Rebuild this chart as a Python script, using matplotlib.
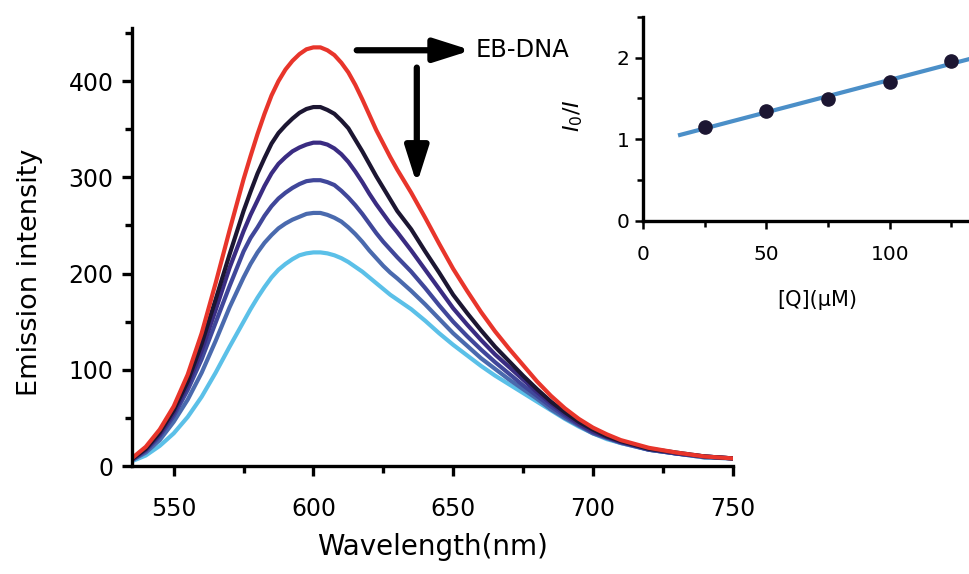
import numpy as np
import matplotlib
matplotlib.use("Agg")
import matplotlib.pyplot as plt
from matplotlib.ticker import MultipleLocator

plt.rcParams['font.family'] = ['DejaVu Sans']

# emission spectra (wavelength in nm), denser around the peak
wavelength = [535, 540, 545, 550, 555, 560, 565, 570, 575,
              577.5, 580, 582.5, 585, 587.5, 590, 592.5, 595, 597.5, 600,
              602.5, 605, 607.5, 610, 612.5, 615, 617.5, 620, 622.5, 625, 627.5,
              630, 635, 640, 645, 650, 655, 660, 665, 670, 675, 680, 685, 690,
              695, 700, 705, 710, 720, 730, 740, 750]

eb_dna = [8, 20, 38, 62, 95, 138, 190, 245, 298,
          322, 345, 366, 385, 400, 412, 421, 428, 433, 435,
          435, 432, 427, 419, 409, 396, 381, 365, 349, 335, 321,
          308, 284, 258, 231, 205, 182, 160, 140, 122, 105, 88, 73, 60,
          49, 40, 33, 27, 19, 14, 10, 8]
q25 = [7, 18, 35, 58, 88, 127, 173, 220, 265,
       285, 304, 320, 335, 346, 354, 361, 367, 371, 373,
       373, 370, 366, 359, 351, 339, 327, 314, 301, 289, 277,
       265, 246, 223, 201, 178, 159, 141, 124, 109, 94, 80, 67, 56,
       46, 38, 31, 26, 18, 14, 10, 8]
q50 = [7, 17, 33, 55, 84, 120, 162, 206, 244,
       261, 276, 291, 304, 314, 321, 327, 331, 334, 336,
       336, 334, 330, 324, 316, 306, 295, 283, 272, 262, 252,
       243, 224, 204, 184, 164, 147, 131, 116, 103, 90, 77, 65, 54,
       44, 36, 30, 25, 18, 13, 10, 8]
q75 = [6, 16, 31, 52, 79, 111, 149, 187, 223,
       237, 248, 260, 270, 278, 284, 289, 293, 296, 297,
       297, 295, 292, 286, 279, 271, 262, 252, 242, 233, 225,
       217, 202, 185, 167, 150, 135, 121, 108, 96, 84, 73, 62, 52,
       43, 35, 30, 25, 17, 13, 10, 8]
q100 = [6, 14, 27, 46, 69, 97, 130, 165, 196,
        210, 222, 232, 240, 247, 252, 256, 259, 262, 263,
        263, 261, 258, 254, 248, 241, 233, 224, 216, 208, 201,
        195, 182, 168, 153, 138, 125, 112, 101, 90, 80, 70, 59, 50,
        42, 34, 29, 24, 17, 13, 9, 8]
q125 = [5, 11, 21, 34, 51, 72, 97, 124, 150,
        163, 175, 186, 196, 204, 210, 215, 219, 221, 222,
        222, 221, 219, 216, 212, 207, 202, 196, 190, 184, 178,
        173, 163, 151, 138, 126, 115, 104, 94, 85, 76, 67, 58, 49,
        41, 34, 28, 24, 17, 13, 9, 8]

# Stern-Volmer inset
conc = [25, 50, 75, 100, 125]
ratio = [1.15, 1.34, 1.49, 1.70, 1.96]

fig = plt.figure(figsize=(9.69, 5.74), dpi=100)
ax = fig.add_axes([0.136, 0.188, 0.620, 0.763])

spectra = [q125, q100, q75, q50, q25, eb_dna]
colors = ['#5bc0e8', '#4a6aae', '#40479a', '#3a2c82', '#1c1632', '#e8352b']
for s, c in zip(spectra, colors):
    ax.plot(wavelength, s, color=c, lw=3, solid_capstyle='round',
            solid_joinstyle='round')

ax.set_xlim(535, 750)
ax.set_ylim(0, 455)
ax.spines['top'].set_visible(False)
ax.spines['right'].set_visible(False)
ax.spines['left'].set_linewidth(2.4)
ax.spines['bottom'].set_linewidth(2.4)
ax.set_xticks([550, 600, 650, 700, 750])
ax.xaxis.set_minor_locator(MultipleLocator(25))
ax.yaxis.set_major_locator(MultipleLocator(100))
ax.yaxis.set_minor_locator(MultipleLocator(50))
ax.tick_params(which='major', direction='out', length=7, width=2.4, labelsize=17)
ax.tick_params(which='minor', direction='out', length=5, width=2.4)
ax.tick_params(axis='x', which='major', pad=15)
ax.tick_params(axis='y', which='major', pad=6)
ax.set_xlabel('Wavelength(nm)', fontsize=20, labelpad=9)
ax.set_ylabel('Emission intensity', fontsize=19.5)
ax.yaxis.set_label_coords(-0.148, 0.443)

# arrows and label
ax.annotate('', xy=(656.5, 432), xytext=(615.5, 432),
            arrowprops=dict(arrowstyle='-|>,head_length=2.2,head_width=0.7',
                            color='black', lw=4.5, shrinkA=0, shrinkB=0))
ax.text(658, 432, 'EB-DNA', fontsize=17.5, va='center', ha='left')
ax.annotate('', xy=(637, 293), xytext=(637, 414),
            arrowprops=dict(arrowstyle='-|>,head_length=2.2,head_width=0.7',
                            color='black', lw=4.5, shrinkA=0, shrinkB=0))

# inset
ins = fig.add_axes([0.6636, 0.615, 0.382, 0.356])
ins.patch.set_alpha(0)
fit = np.polyfit(conc, ratio, 1)
xs = np.array([15, 150])
ins.plot(xs, np.polyval(fit, xs), color='#4b8fc8', lw=3, zorder=2)
ins.plot(conc, ratio, 'o', color='#1c1632', ms=9.5, zorder=3)
ins.set_xlim(0, 150)
ins.set_ylim(0, 2.5)
ins.spines['top'].set_visible(False)
ins.spines['right'].set_visible(False)
ins.spines['left'].set_linewidth(2.4)
ins.spines['bottom'].set_linewidth(2.4)
ins.set_xticks([0, 50, 100])
ins.xaxis.set_minor_locator(MultipleLocator(25))
ins.set_yticks([0, 1, 2])
ins.yaxis.set_minor_locator(MultipleLocator(0.5))
ins.tick_params(which='major', direction='out', length=6, width=1.8, labelsize=14.5)
ins.tick_params(which='minor', direction='out', length=4, width=1.8)
ins.tick_params(axis='x', which='major', pad=11)
ins.set_xlabel('[Q](μM)', fontsize=15)
ins.xaxis.set_label_coords(0.47, -0.34)
ins.set_ylabel(r'$I_0/I$', fontsize=16, family='serif')
ins.yaxis.set_label_coords(-0.157, 0.513)

fig.savefig('out.png', dpi=100, facecolor='white')
